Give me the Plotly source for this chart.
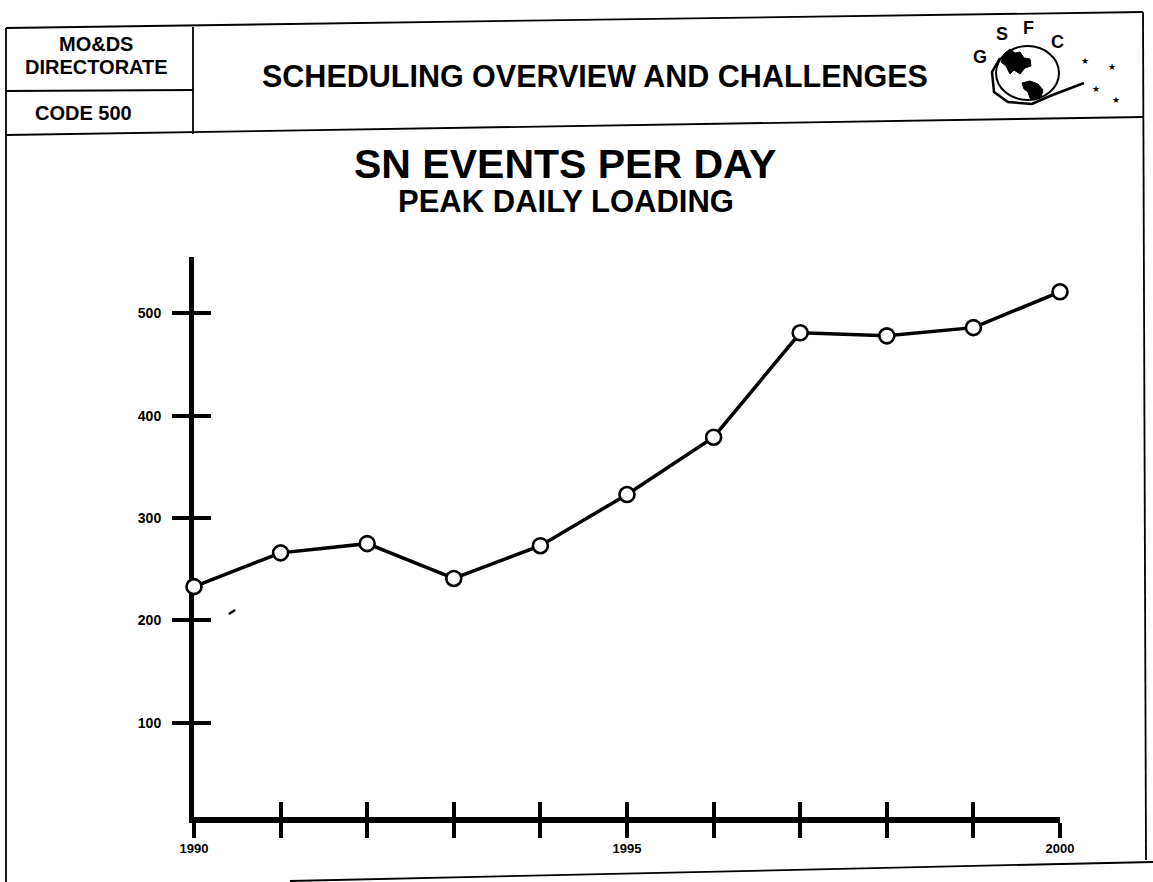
import plotly.graph_objects as go

# ---------------- data ----------------
years = [1990, 1991, 1992, 1993, 1994, 1995, 1996, 1997, 1998, 1999, 2000]
events_per_day = [233, 266, 275, 241, 273, 323, 379, 481, 478, 486, 521]
x_tick_labels = ["1990", "", "", "", "", "1995", "", "", "", "", "2000"]
y_tick_values = [100, 200, 300, 400, 500]
y_tick_labels = ["100", "200", "300", "400", "500"]

title_main = "SN EVENTS PER DAY"
title_sub = "PEAK DAILY LOADING"
header_title = "SCHEDULING OVERVIEW AND CHALLENGES"

# ---------------- layout geometry (pixels) ----------------
W, H = 1153, 882
L, R, T, B = 194, 93, 257, 65
PW, PH = W - L - R, H - T - B


def px(x):
    return (x - L) / PW


def py(y):
    return (H - B - y) / PH


def path(points, close=True):
    s = "M " + " L ".join(f"{px(x):.5f},{py(y):.5f}" for x, y in points)
    return s + (" Z" if close else "")


FONT = "Liberation Sans, Arial, Helvetica, sans-serif"

fig = go.Figure()

fig.add_trace(go.Scatter(
    x=years, y=events_per_day, mode="lines+markers",
    line=dict(color="black", width=3.5),
    marker=dict(size=15, color="white", line=dict(color="black", width=2.6)),
    cliponaxis=False, showlegend=False, hoverinfo="x+y",
))
# helper trace so that the overlay axes (crossing tick marks) are drawn
fig.add_trace(go.Scatter(
    x=years, y=events_per_day, xaxis="x2", yaxis="y2", mode="markers",
    marker=dict(opacity=0), showlegend=False, hoverinfo="skip",
))

axis_common = dict(showgrid=False, zeroline=False, layer="below traces")

fig.update_layout(
    width=W, height=H,
    margin=dict(l=L, r=R, t=T, b=B),
    paper_bgcolor="white", plot_bgcolor="white",
    font=dict(family=FONT, color="black"),
    xaxis=dict(
        range=[1990, 2000], showline=True, linecolor="black", linewidth=5.5,
        ticks="outside", ticklen=15, tickwidth=4, tickcolor="black",
        tickvals=years, ticktext=x_tick_labels,
        tickfont=dict(size=13, family=FONT, weight="bold"),
        **axis_common,
    ),
    yaxis=dict(
        range=[8, 555], showline=True, linecolor="black", linewidth=5,
        ticks="outside", ticklen=17, tickwidth=4, tickcolor="black",
        tickvals=y_tick_values, ticktext=y_tick_labels,
        tickfont=dict(size=14, family=FONT, weight="bold"),
        ticklabelstandoff=8,
        **axis_common,
    ),
    xaxis2=dict(
        range=[1990, 2000], overlaying="x", anchor="y", side="bottom",
        ticks="inside", ticklen=15, tickwidth=4, tickcolor="black",
        tickvals=years, showticklabels=False, showline=False,
        **axis_common,
    ),
    yaxis2=dict(
        range=[8, 555], overlaying="y", anchor="x", side="left",
        ticks="inside", ticklen=17, tickwidth=4, tickcolor="black",
        tickvals=y_tick_values, showticklabels=False, showline=False,
        **axis_common,
    ),
)

# ---------------- slide frame ----------------
frame = dict(color="black", width=1.8)
lines = [
    ((6, 28), (1143, 12)),      # top
    ((6, 135), (1143, 117)),    # header bottom
    ((6, 28), (6, 882)),        # left border
    ((1143, 12), (1146, 860)),  # right border
    ((193, 27), (193, 134)),    # header divider
    ((6, 91), (193, 90)),       # MO&DS / CODE divider
    ((290, 881), (1153, 862)),  # bottom edge
]
shapes = []
for (x0, y0), (x1, y1) in lines:
    shapes.append(dict(type="line", xref="paper", yref="paper",
                       x0=px(x0), y0=py(y0), x1=px(x1), y1=py(y1), line=frame))
# small scan speck next to the 200 tick
shapes.append(dict(type="line", xref="paper", yref="paper",
                   x0=px(229), y0=py(614), x1=px(235), y1=py(610),
                   line=dict(color="black", width=2.5)))

# ---------------- GSFC logo ----------------
shapes.append(dict(type="circle", xref="paper", yref="paper",
                   x0=px(996), x1=px(1059), y0=py(46), y1=py(100),
                   line=dict(color="black", width=2)))
shapes.append(dict(type="path", xref="paper", yref="paper",
                   path=path([(1004, 54), (1010, 49), (1015, 53), (1020, 52), (1024, 58),
                              (1030, 59), (1031, 66), (1025, 68), (1020, 74), (1014, 70),
                              (1010, 74), (1006, 66), (1001, 62)]),
                   fillcolor="black", line=dict(color="black", width=1)))
shapes.append(dict(type="path", xref="paper", yref="paper",
                   path=path([(1022, 83), (1030, 81), (1038, 84), (1043, 90), (1041, 97),
                              (1035, 100), (1030, 98), (1028, 92), (1024, 89)]),
                   fillcolor="black", line=dict(color="black", width=1)))
shapes.append(dict(type="path", xref="paper", yref="paper",
                   path=path([(1000, 58), (992, 72), (994, 92), (1008, 102), (1032, 104),
                              (1050, 96), (1084, 83)], close=False),
                   line=dict(color="black", width=2.5)))

annotations = []


def add_text(text, x, y, size, bold=True, family=FONT):
    annotations.append(dict(
        text=text, x=px(x), y=py(y), xref="paper", yref="paper",
        xanchor="center", yanchor="middle", showarrow=False,
        font=dict(size=size, family=family, color="black",
                  weight="bold" if bold else "normal"),
    ))


add_text("MO&DS", 96, 44, 20)
add_text("DIRECTORATE", 96, 67, 20)
add_text("CODE 500", 84, 113, 20)
add_text(header_title, 595, 76, 30.5)
add_text(title_main, 565, 164, 41)
add_text(title_sub, 566, 202, 31)

for letter, x, y in [("G", 980, 57), ("S", 1002, 34), ("F", 1028, 28), ("C", 1057, 42)]:
    add_text(letter, x, y, 18)
for x, y in [(1085, 61), (1112, 67), (1096, 89), (1116, 100)]:
    add_text("★", x, y, 9, family="DejaVu Sans")

fig.update_layout(shapes=shapes, annotations=annotations)

fig.write_html("out.html",
               config={"displayModeBar": False},
               post_script="document.body.style.margin='0';document.body.style.overflow='hidden';")
